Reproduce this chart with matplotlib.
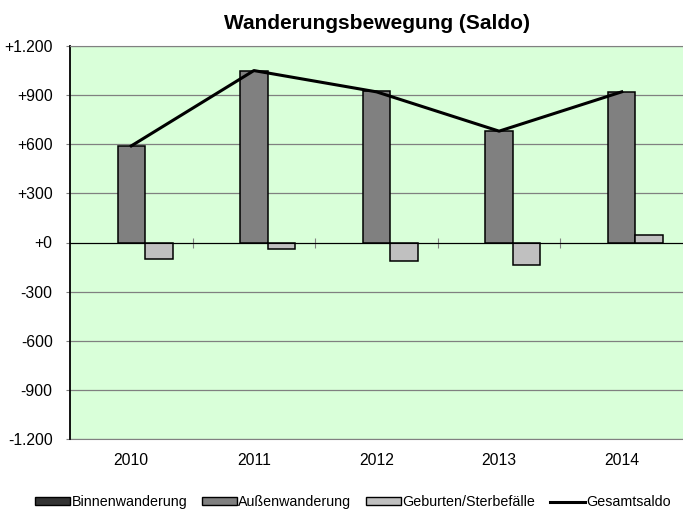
import numpy as np
import matplotlib.pyplot as plt
from matplotlib.patches import Patch
from matplotlib.lines import Line2D
from matplotlib.ticker import FuncFormatter

plt.rcParams['font.family'] = ['Liberation Sans', 'DejaVu Sans']

# Data
years = ['2010', '2011', '2012', '2013', '2014']
binnen = [0, 0, 0, 0, 0]
aussen = [590, 1050, 923, 683, 919]
geburten = [-100, -38, -115, -135, 44]
gesamt = [590, 1050, 920, 680, 920]

x = np.arange(len(years))
w = 0.225

fig = plt.figure(figsize=(6.83, 5.14), dpi=100)
ax = fig.add_axes([70 / 683, 75 / 514, 613 / 683, 393 / 514])
ax.set_facecolor('#D9FFD9')

# Binnenwanderung is zero everywhere, so its bars have no visible outline
ax.bar(x - w, binnen, w, color='#333333', lw=0, zorder=3)
ax.bar(x, aussen, w, color='#808080', edgecolor='black', lw=1.1, zorder=3)
ax.bar(x + w, geburten, w, color='#C0C0C0', edgecolor='black', lw=1.1, zorder=3)
ax.plot(x, gesamt, color='black', lw=2.2, zorder=4)

ax.set_xlim(-0.5, len(years) - 0.5)
ax.set_ylim(-1200, 1200)
ax.set_yticks(np.arange(-1200, 1201, 300))
ax.yaxis.set_major_formatter(FuncFormatter(lambda v, p: f'{int(v):+,}'.replace(',', '.')))
ax.grid(axis='y', color='#808080', lw=0.9, zorder=0)
ax.tick_params(axis='y', length=3, color='#808080', labelsize=11.3, pad=9.5)

# x axis drawn through zero with category separators
ax.spines['bottom'].set_position(('data', 0))
ax.spines['bottom'].set_zorder(5)
ax.set_xticks(np.arange(0.5, len(years) - 0.5, 1))
ax.set_xticklabels([])
ax.tick_params(axis='x', direction='inout', length=7, color='#808080')
ax.spines['left'].set_linewidth(1.3)
ax.spines['top'].set_color('#808080')
ax.spines['right'].set_visible(False)

sec = ax.secondary_xaxis(0)
sec.set_xticks(x)
sec.set_xticklabels(years)
sec.tick_params(length=0, labelsize=11.3, pad=10)
sec.spines['bottom'].set_color('#808080')

ax.set_title('Wanderungsbewegung (Saldo)', fontsize=15, fontweight='bold', pad=12.5)

handles = [
    Patch(facecolor='#333333', edgecolor='black', lw=1),
    Patch(facecolor='#808080', edgecolor='black', lw=1),
    Patch(facecolor='#C0C0C0', edgecolor='black', lw=1),
    Line2D([], [], color='black', lw=2.2),
]
labels = ['Binnenwanderung', 'Außenwanderung', 'Geburten/Sterbefälle', 'Gesamtsaldo']
ax.legend(handles, labels, loc='center', bbox_to_anchor=(0.5 - 23.5 / 613, -63 / 393),
          ncol=4, frameon=False, fontsize=10.3, handlelength=2.45, handleheight=0.45,
          handletextpad=0.1, columnspacing=1.0)

fig.savefig('out.png', dpi=100)
